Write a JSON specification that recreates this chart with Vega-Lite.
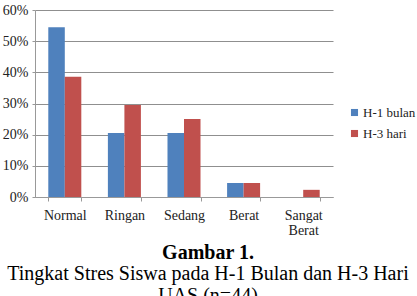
{
  "$schema": "https://vega.github.io/schema/vega-lite/v6.json",
  "width": 298,
  "height": 187,
  "autosize": {"type": "none"},
  "padding": {"left": 35, "top": 10, "right": 84, "bottom": 99},
  "background": "white",
  "config": {
    "font": "Liberation Serif",
    "view": {"stroke": null}
  },
  "title": {
    "text": "Gambar 1.",
    "subtitle": ["Tingkat Stres Siswa pada H-1 Bulan dan H-3 Hari", "UAS (n=44)"],
    "orient": "bottom",
    "anchor": "middle",
    "frame": "group",
    "dx": 24,
    "offset": 6,
    "font": "Liberation Serif",
    "fontSize": 20,
    "fontWeight": "bold",
    "color": "black",
    "subtitleFont": "Liberation Serif",
    "subtitleFontSize": 20,
    "subtitleColor": "black",
    "subtitlePadding": 1,
    "subtitleLineHeight": 22
  },
  "data": {
    "values": [
      {"kategori": "Normal", "waktu": "H-1 bulan", "persen": 0.545},
      {"kategori": "Normal", "waktu": "H-3 hari", "persen": 0.386},
      {"kategori": "Ringan", "waktu": "H-1 bulan", "persen": 0.205},
      {"kategori": "Ringan", "waktu": "H-3 hari", "persen": 0.295},
      {"kategori": "Sedang", "waktu": "H-1 bulan", "persen": 0.205},
      {"kategori": "Sedang", "waktu": "H-3 hari", "persen": 0.25},
      {"kategori": "Berat", "waktu": "H-1 bulan", "persen": 0.045},
      {"kategori": "Berat", "waktu": "H-3 hari", "persen": 0.045},
      {"kategori": "Sangat Berat", "waktu": "H-1 bulan", "persen": 0.0},
      {"kategori": "Sangat Berat", "waktu": "H-3 hari", "persen": 0.023}
    ]
  },
  "mark": {"type": "bar"},
  "encoding": {
    "x": {
      "field": "kategori",
      "type": "nominal",
      "sort": ["Normal", "Ringan", "Sedang", "Berat", "Sangat Berat"],
      "scale": {"paddingInner": 0.446, "paddingOuter": 0.223},
      "axis": {
        "title": null,
        "labelAngle": 0,
        "labelFont": "Liberation Serif",
        "labelFontSize": 14,
        "labelColor": "#222222",
        "labelPadding": 7,
        "labelExpr": "datum.value == 'Sangat Berat' ? ['Sangat', 'Berat'] : datum.value",
        "labelLineHeight": 15,
        "tickBand": "extent",
        "ticks": true,
        "tickSize": 4,
        "tickColor": "#999999",
        "domainColor": "#999999",
        "grid": false
      }
    },
    "xOffset": {
      "field": "waktu",
      "type": "nominal",
      "scale": {"paddingInner": 0, "paddingOuter": 0}
    },
    "y": {
      "field": "persen",
      "type": "quantitative",
      "scale": {"domain": [0, 0.6], "nice": false},
      "axis": {
        "title": null,
        "values": [0, 0.1, 0.2, 0.3, 0.4, 0.5, 0.6],
        "format": ".0%",
        "labelFont": "Liberation Serif",
        "labelFontSize": 14,
        "labelColor": "#222222",
        "labelPadding": 4,
        "tickSize": 3,
        "tickColor": "#999999",
        "domainColor": "#999999",
        "gridColor": "#8f8f8f",
        "gridOpacity": 1,
        "gridWidth": 1
      }
    },
    "color": {
      "field": "waktu",
      "type": "nominal",
      "scale": {"domain": ["H-1 bulan", "H-3 hari"], "range": ["#4F81BD", "#C0504D"]},
      "legend": {
        "title": null,
        "orient": "none",
        "legendX": 313,
        "legendY": 96,
        "symbolType": "square",
        "symbolSize": 50,
        "symbolStrokeWidth": 0,
        "symbolOpacity": 1,
        "labelFont": "Liberation Serif",
        "labelFontSize": 13,
        "labelColor": "#222222",
        "labelOffset": 2,
        "rowPadding": 7
      }
    }
  }
}
